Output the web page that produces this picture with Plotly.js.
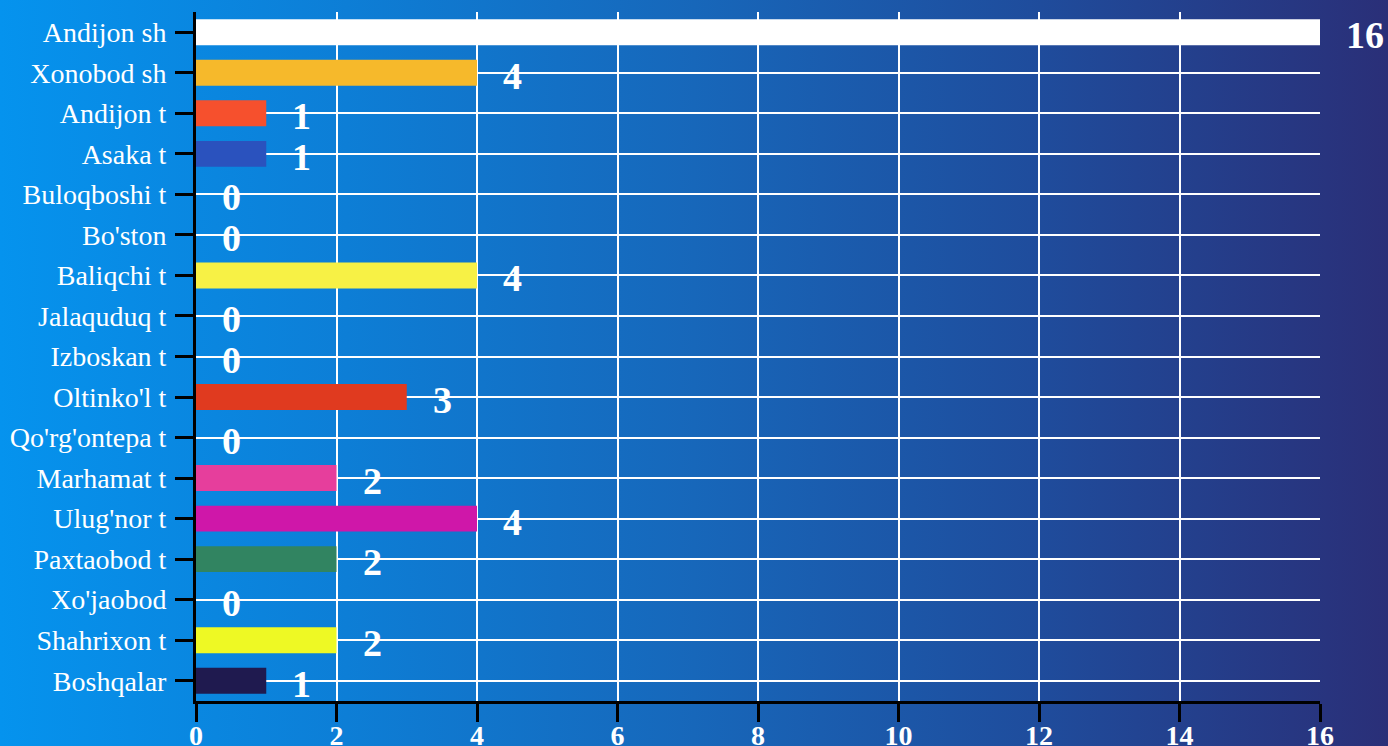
<!DOCTYPE html>
<html>
<head>
<meta charset="utf-8">
<script src="https://cdn.plot.ly/plotly-3.0.1.min.js"></script>
<style>
html,body{margin:0;padding:0;}
#chart{width:1388px;height:746px;background:linear-gradient(to right,#0593EE 0%,#0d7ed6 25%,#1767BA 50%,#1f4c9c 75%,#2A2F78 100%);}
</style>
</head>
<body>
<div id="chart"></div>
<script>
const categories = ["Andijon sh","Xonobod sh","Andijon t","Asaka t","Buloqboshi t","Bo'ston","Baliqchi t","Jalaquduq t","Izboskan t","Oltinko'l t","Qo'rg'ontepa t","Marhamat t","Ulug'nor t","Paxtaobod t","Xo'jaobod","Shahrixon t","Boshqalar"];
const values = [16,4,1,1,0,0,4,0,0,3,0,2,4,2,0,2,1];
const barColors = ["#FFFFFF","#F6B92B","#F6502D","#2A52BE","#888888","#888888","#F7F145","#888888","#888888","#E03A1F","#888888","#E63E9C","#CF17A9","#318461","#888888","#EEF924","#1F1A4F"];
const xTicks = [0,2,4,6,8,10,12,14,16];

const FONT = "Liberation Serif";

const trace = {
  type: "bar",
  orientation: "h",
  x: values,
  y: categories,
  width: 0.64,
  marker: {color: barColors, line: {width: 0}},
  hoverinfo: "none"
};

const annotations = values.map((v, i) => ({
  x: v, y: categories[i], xref: "x", yref: "y",
  text: "<b>" + String(v) + "</b>", showarrow: false, xanchor: "left", yanchor: "middle",
  xshift: 24, yshift: -3,
  font: {family: FONT, size: 38, color: "#FFFFFF"}
}));

const layout = {
  width: 1388, height: 746,
  margin: {l: 196, r: 68, t: 12, b: 45},
  paper_bgcolor: "rgba(0,0,0,0)",
  plot_bgcolor: "rgba(0,0,0,0)",
  font: {family: FONT, color: "#FFFFFF"},
  showlegend: false,
  xaxis: {
    range: [0, 16],
    tickvals: xTicks,
    ticktext: xTicks.map(v => "<b>" + v + "</b>"),
    showgrid: true, gridcolor: "#FFFFFF", gridwidth: 2,
    zeroline: false,
    showline: true, linecolor: "#000000", linewidth: 3,
    ticks: "outside", ticklen: 18, tickwidth: 3, tickcolor: "#000000",
    ticklabelstandoff: -11,
    tickfont: {family: FONT, size: 28, color: "#FFFFFF"},
    fixedrange: true
  },
  yaxis: {
    type: "category",
    categoryorder: "array",
    categoryarray: categories,
    range: [16.5, -0.5],
    showgrid: true, gridcolor: "#FFFFFF", gridwidth: 2,
    zeroline: false,
    showline: true, linecolor: "#000000", linewidth: 3,
    ticks: "outside", ticklen: 18, tickwidth: 3, tickcolor: "#000000",
    ticklabelstandoff: 3,
    tickfont: {family: FONT, size: 28, color: "#FFFFFF"},
    fixedrange: true
  },
  annotations: annotations
};

Plotly.newPlot("chart", [trace], layout, {displayModeBar: false, staticPlot: true});
</script>
</body>
</html>
